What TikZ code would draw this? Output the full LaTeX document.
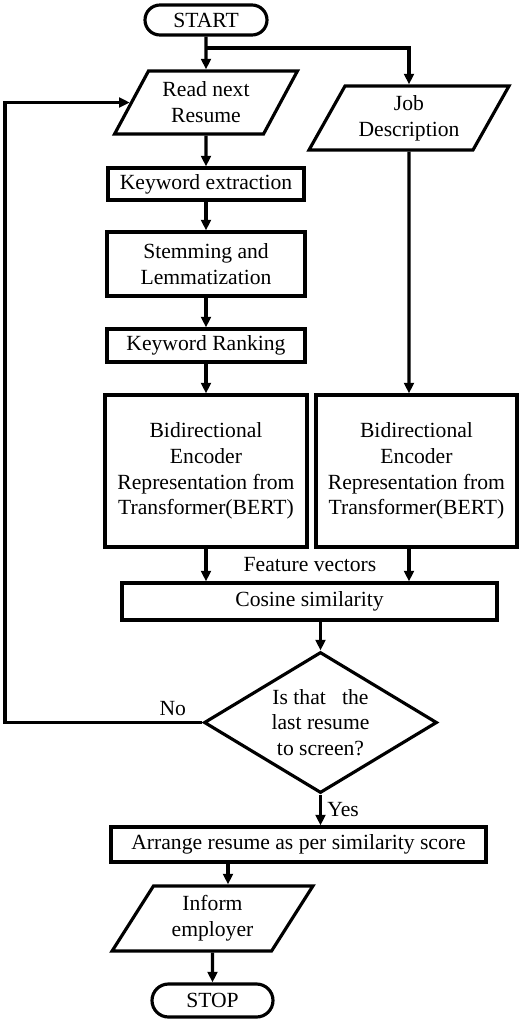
\documentclass[tikz,border=0pt]{standalone}
\usepackage{fontspec}
\setmainfont{Liberation Serif}
\usetikzlibrary{shapes.geometric,shapes.misc,arrows.meta}
\tikzset{
    every node/.style={font=\fontsize{12.3}{14.7}\selectfont, align=center,
    	inner sep=0pt}
}
\tikzset{
    flowbox/.style={rectangle, draw, line width=1.8pt},
    flowio/.style={trapezium, trapezium left angle=58, trapezium right angle=122,
    	trapezium stretches=true, draw, line width=1.8pt},
    flowterm/.style={rounded rectangle, draw, line width=1.8pt},
    flowcheck/.style={diamond, aspect=1.65, draw, line width=1.8pt},
    flowline/.style={line width=1.8pt, -{Triangle[length=6pt,width=5.5pt]}}
}
\tikzset{
    every edge/.append style={flowline}
}

\begin{document}
\begin{tikzpicture}
	\useasboundingbox (0,0) rectangle (10.48cm, -20.48cm);
	\node (start) [flowterm, minimum width=2.44cm, minimum height=0.6cm] at (4.12cm, -0.40cm) {START};
	\node (read) [flowio, minimum width=3.66cm, minimum height=1.26cm] at (4.12cm, -2.05cm) {Read next\\Resume};
	\node (jd) [flowio, minimum width=4.02cm, minimum height=1.28cm] at (8.18cm, -2.36cm) {Job\\Description};
	\node (kex) [flowbox, minimum width=3.92cm, minimum height=0.64cm] at (4.12cm, -3.68cm) {Keyword extraction};
	\node (stem) [flowbox, minimum width=3.96cm, minimum height=1.28cm] at (4.12cm, -5.28cm) {Stemming and\\Lemmatization};
	\node (rank) [flowbox, minimum width=3.96cm, minimum height=0.66cm] at (4.12cm, -6.91cm) {Keyword Ranking};
	\node (bertL) [flowbox, minimum width=4.04cm, minimum height=3.04cm] at (4.12cm, -9.42cm) {Bidirectional\\Encoder\\Representation from\\Transformer(BERT)};
	\node (bertR) [flowbox, minimum width=4.02cm, minimum height=3.04cm] at (8.33cm, -9.42cm) {Bidirectional\\Encoder\\Representation from\\Transformer(BERT)};
	\node (fv) at (6.20cm, -11.30cm) {Feature vectors};
	\node (cos) [flowbox, minimum width=7.5cm, minimum height=0.74cm] at (6.19cm, -12.03cm) {Cosine similarity};
	\node (dec) [flowcheck, minimum width=4.66cm, minimum height=2.82cm] at (6.41cm, -14.45cm) {Is that\ \ \ the\\last resume\\to screen?};
	\node (arr) [flowbox, minimum width=7.5cm, minimum height=0.70cm] at (5.97cm, -16.89cm) {Arrange resume as per similarity score};
	\node (inf) [flowio, minimum width=4.04cm, minimum height=1.30cm] at (4.25cm, -18.37cm) {Inform\\employer};
	\node (stop) [flowterm, minimum width=2.42cm, minimum height=0.66cm] at (4.25cm, -20.01cm) {STOP};
	\coordinate (split) at (4.12cm, -0.96cm);
	\coordinate (loop) at (0.10cm, -2.05cm);
	\coordinate (infin) at (4.56cm, -17.70cm);

	\draw (start) edge (read);
	\draw[flowline] (split) -| (jd);
	\draw (read) edge (kex); \draw (kex) edge (stem); \draw (stem) edge (rank);
	\draw (rank) edge (bertL);
	\draw (jd) edge (jd |- bertR.north);
	\draw (bertL) edge (bertL |- cos.north);
	\draw (jd |- bertR.south) edge (jd |- cos.north);
	\draw (cos.south -| dec) edge (dec);
	\draw (dec) edge node[right=3pt, pos=0.5] {Yes} (dec |- arr.north);
	\draw[flowline] (dec) -- node[pos=0.15, above=3pt] {No} (dec -| loop) |- (read);
	\draw (infin |- arr.south) edge (infin |- inf.north);
	\draw (inf) edge (stop);
\end{tikzpicture}
\end{document}
